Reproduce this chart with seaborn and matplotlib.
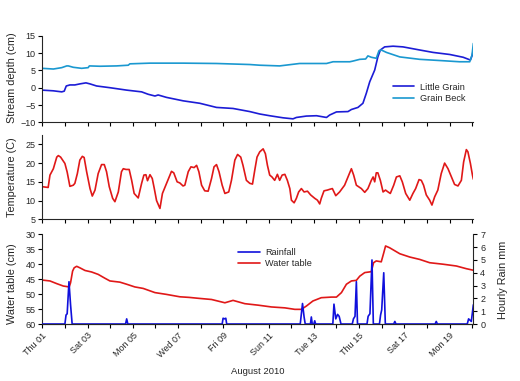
import numpy as np
import matplotlib
matplotlib.use("Agg")
import matplotlib.pyplot as plt
import seaborn as sns

# time axis in days from Thu 01 00:00
day_labels = ['Thu 01', 'Sat 03', 'Mon 05', 'Wed 07', 'Fri 09',
              'Sun 11', 'Tue 13', 'Thu 15', 'Sat 17', 'Mon 19']

# stream depth (cm)
lg_t = [0.0, 0.49, 0.86, 0.97, 1.06, 1.22, 1.44, 1.66, 1.93, 2.11,
        2.40, 2.99, 3.73, 4.39, 4.68, 4.98, 5.12, 5.49, 6.23, 6.96,
        7.70, 8.43, 9.17, 9.61, 10.05, 10.64, 11.08, 11.23, 11.67, 12.12,
        12.56, 12.70, 13.00, 13.51, 13.66, 13.95, 14.17, 14.32, 14.47, 14.69,
        14.83, 14.94, 15.13, 15.50, 15.94, 16.68, 17.27, 18.01, 18.60, 18.92,
        19.00, 19.05]
little_grain = [-0.7, -0.9, -1.2, -1.0, 0.5, 0.8, 0.8, 1.1, 1.4, 1.1,
                0.5, 0.0, -0.7, -1.2, -1.9, -2.4, -2.1, -2.8, -3.8, -4.5,
                -5.7, -6.0, -6.9, -7.6, -8.1, -8.7, -9.0, -8.6, -8.2, -8.1,
                -8.6, -7.9, -7.0, -6.9, -6.3, -5.7, -4.5, -1.6, 1.7, 5.1,
                8.9, 10.9, 11.8, 12.0, 11.8, 10.9, 10.2, 9.6, 8.8, 8.0,
                9.4, 10.9]
gb_t = [0.0, 0.49, 0.86, 1.08, 1.15, 1.37, 1.74, 2.03, 2.08, 2.55,
        3.28, 3.80, 3.87, 4.76, 6.23, 7.70, 9.17, 9.61, 10.49, 11.37,
        12.56, 12.85, 13.59, 13.73, 14.03, 14.29, 14.39, 14.54, 14.76, 14.88,
        14.98, 15.21, 15.80, 16.68, 17.71, 18.44, 18.89, 18.99, 19.05]
grain_beck = [5.6, 5.4, 5.8, 6.3, 6.3, 5.9, 5.6, 5.8, 6.3, 6.2,
              6.3, 6.5, 6.9, 7.1, 7.1, 7.0, 6.7, 6.5, 6.3, 7.0,
              7.0, 7.5, 7.5, 7.7, 8.2, 8.3, 9.2, 8.8, 8.5, 10.7,
              10.9, 10.2, 8.9, 8.2, 7.8, 7.5, 7.5, 9.4, 12.8]

# temperature (C)
temp_t = [0.00, 0.26, 0.34, 0.49, 0.64, 0.71, 0.81, 1.00, 1.10, 1.22,
          1.37, 1.44, 1.55, 1.66, 1.77, 1.85, 1.96, 2.11, 2.21, 2.33,
          2.47, 2.62, 2.74, 2.84, 2.96, 3.11, 3.21, 3.36, 3.50, 3.58,
          3.70, 3.84, 3.95, 4.06, 4.24, 4.39, 4.49, 4.58, 4.65, 4.76,
          4.86, 4.95, 5.05, 5.20, 5.31, 5.46, 5.61, 5.71, 5.81, 5.96,
          6.08, 6.22, 6.30, 6.45, 6.57, 6.71, 6.82, 6.92, 7.04, 7.18,
          7.33, 7.48, 7.59, 7.70, 7.81, 7.95, 8.07, 8.24, 8.36, 8.51,
          8.63, 8.77, 8.87, 9.02, 9.17, 9.29, 9.39, 9.49, 9.61, 9.76,
          9.86, 9.95, 10.05, 10.15, 10.27, 10.39, 10.49, 10.60, 10.72, 10.83,
          10.94, 11.01, 11.13, 11.23, 11.33, 11.45, 11.57, 11.72, 11.86, 12.04,
          12.16, 12.26, 12.33, 12.45, 12.60, 12.70, 12.82, 12.97, 13.14, 13.36,
          13.51, 13.66, 13.76, 13.88, 14.10, 14.25, 14.39, 14.54, 14.62, 14.69,
          14.76, 14.83, 14.94, 15.06, 15.17, 15.28, 15.38, 15.53, 15.65, 15.80,
          15.91, 16.06, 16.24, 16.38, 16.50, 16.65, 16.75, 16.85, 16.97, 17.12,
          17.22, 17.34, 17.48, 17.63, 17.78, 17.93, 18.08, 18.22, 18.37, 18.52,
          18.62, 18.74, 18.81, 18.92, 19.01, 19.05]
temperature = [13.7, 13.5, 16.8, 18.5, 21.6, 22.0, 21.6, 19.9, 17.6, 13.8,
               14.1, 14.6, 17.2, 20.8, 21.8, 21.5, 17.7, 13.2, 11.2, 12.8,
               17.2, 19.6, 19.6, 17.7, 13.7, 10.6, 9.7, 12.3, 17.7, 18.5,
               18.3, 18.3, 15.4, 11.9, 10.7, 14.6, 16.8, 16.9, 15.3, 16.9,
               15.9, 13.2, 10.0, 7.9, 11.9, 14.1, 16.3, 17.8, 17.4, 15.0,
               14.7, 13.9, 14.1, 17.7, 19.0, 18.8, 19.4, 17.7, 14.1, 12.6,
               12.5, 15.9, 19.0, 19.6, 17.7, 14.1, 11.9, 12.3, 15.4, 20.8,
               22.3, 21.6, 19.4, 15.4, 14.6, 14.4, 18.1, 21.6, 23.0, 23.8,
               22.5, 19.4, 16.8, 16.3, 15.4, 17.0, 15.4, 16.8, 17.0, 15.4,
               13.2, 10.1, 9.4, 10.6, 12.3, 13.2, 12.3, 12.5, 11.5, 10.6,
               10.1, 9.1, 10.6, 12.6, 12.8, 13.0, 13.2, 11.3, 12.3, 14.1,
               16.3, 18.5, 16.8, 14.1, 13.2, 12.2, 13.2, 15.4, 16.3, 15.0,
               17.4, 17.4, 15.4, 12.3, 12.8, 12.3, 11.9, 14.1, 16.3, 16.6,
               15.0, 11.9, 10.1, 11.9, 13.2, 15.6, 15.4, 14.1, 11.5, 10.1,
               8.8, 11.0, 12.8, 17.2, 20.0, 18.5, 16.3, 14.3, 13.9, 15.4,
               20.3, 23.6, 23.0, 19.9, 16.8, 15.7]

# water table (cm below surface)
wt_t = [0.0, 0.34, 0.64, 0.93, 1.19, 1.25, 1.34, 1.41, 1.52, 1.66,
        1.89, 2.18, 2.47, 2.77, 2.99, 3.43, 3.73, 4.09, 4.46, 4.98,
        5.49, 6.08, 6.49, 6.89, 7.48, 8.07, 8.43, 8.95, 9.54, 10.13,
        10.72, 11.16, 11.45, 11.67, 11.96, 12.33, 12.78, 13.00, 13.22, 13.44,
        13.66, 13.88, 14.03, 14.25, 14.54, 14.64, 14.76, 14.98, 15.09, 15.17,
        15.35, 15.80, 16.24, 16.68, 17.12, 17.71, 18.30, 18.74, 19.04]
water_table = [45.3, 45.6, 46.5, 47.3, 47.6, 46.2, 42.3, 41.2, 40.7, 41.2,
               42.1, 42.6, 43.4, 44.7, 45.6, 46.0, 46.7, 47.6, 48.1, 49.5,
               50.1, 50.9, 51.1, 51.4, 51.8, 52.9, 52.1, 53.2, 53.7, 54.3,
               54.6, 55.1, 55.1, 54.0, 52.3, 51.2, 51.0, 51.0, 49.5, 46.7,
               45.6, 45.4, 44.0, 42.8, 42.5, 39.5, 38.9, 39.2, 36.2, 33.9,
               34.5, 36.5, 37.6, 38.4, 39.5, 40.0, 40.6, 41.5, 42.0]

# hourly rain (mm)
rain_t = [0.0, 1.00, 1.05, 1.10, 1.18, 1.25, 1.32, 3.68, 3.73, 3.78,
          7.95, 7.99, 8.05, 8.11, 8.15, 11.40, 11.45, 11.50, 11.57, 11.62,
          11.85, 11.89, 11.93, 12.00, 12.04, 12.08, 12.84, 12.89, 12.97, 13.05,
          13.12, 13.20, 13.70, 13.75, 13.82, 13.88, 13.93, 14.35, 14.40, 14.48,
          14.57, 14.63, 14.90, 14.95, 15.00, 15.09, 15.16, 15.53, 15.58, 15.63,
          17.36, 17.41, 17.46, 18.78, 18.84, 18.90, 18.96, 19.05]
rain_mm = [0.0, 0.0, 0.7, 0.8, 3.3, 1.5, 0.0, 0.0, 0.4, 0.0,
           0.0, 0.45, 0.4, 0.45, 0.0, 0.0, 0.8, 1.6, 0.55, 0.0,
           0.0, 0.55, 0.0, 0.0, 0.25, 0.0, 0.0, 1.55, 0.4, 0.75,
           0.6, 0.0, 0.0, 0.4, 0.6, 3.3, 0.0, 0.0, 0.6, 0.8,
           5.0, 0.0, 0.0, 0.7, 1.1, 4.0, 0.0, 0.0, 0.2, 0.0,
           0.0, 0.2, 0.0, 0.0, 0.4, 0.3, 0.2, 1.5]

sns.set_style("ticks")
plt.rcParams['font.family'] = ['Liberation Sans', 'DejaVu Sans']
plt.rcParams['axes.linewidth'] = 0.8

fig = plt.figure(figsize=(5.2, 3.81), dpi=100)
ax1 = fig.add_axes([0.0813, 0.679, 0.829, 0.227])
ax2 = fig.add_axes([0.0813, 0.4244, 0.829, 0.2213])
ax3 = fig.add_axes([0.0813, 0.1496, 0.829, 0.2354])
ax4 = ax3.twinx()

c_lg = '#1c1cd6'
c_gb = '#1a98d0'
c_red = '#e01818'
c_rain = '#1010dc'
lw = 1.2

sns.lineplot(x=lg_t, y=little_grain, ax=ax1, color=c_lg, linewidth=lw, estimator=None, sort=False)
sns.lineplot(x=gb_t, y=grain_beck, ax=ax1, color=c_gb, linewidth=lw, estimator=None, sort=False)
sns.lineplot(x=temp_t, y=temperature, ax=ax2, color=c_red, linewidth=lw, estimator=None, sort=False)
sns.lineplot(x=wt_t, y=water_table, ax=ax3, color=c_red, linewidth=lw, estimator=None, sort=False)
sns.lineplot(x=rain_t, y=rain_mm, ax=ax4, color=c_rain, linewidth=lw, estimator=None, sort=False)

ax1.set_ylim(-10, 15)
ax1.set_yticks([-10, -5, 0, 5, 10, 15])
ax2.set_ylim(5, 27.5)
ax2.set_yticks([5, 10, 15, 20, 25])
ax3.set_ylim(60, 30)
ax3.set_yticks([30, 35, 40, 45, 50, 55, 60])
ax4.set_ylim(0, 7)
ax4.set_yticks(range(0, 8))

tick_labels = []
for i in range(20):
    tick_labels.append(day_labels[i // 2] if i % 2 == 0 else '')

for ax in (ax1, ax2, ax3, ax4):
    ax.set_xlim(0, 19.05)
    ax.set_xticks(range(20))
    ax.set_xlabel('')
    ax.set_ylabel('')
    ax.tick_params(length=3, width=0.8, labelsize=6.5, pad=2, color='black')
    ax.spines['top'].set_visible(False)

for ax in (ax1, ax2, ax3):
    ax.spines['right'].set_visible(False)

ax1.set_xticklabels([])
ax2.set_xticklabels([])
ax3.set_xticklabels(tick_labels, rotation=45, ha='right', rotation_mode='anchor')
ax4.spines['left'].set_visible(False)

# y labels
fig.text(0.023, 0.795, 'Stream depth (cm)', rotation=90, ha='center', va='center', fontsize=7.8)
fig.text(0.023, 0.535, 'Temperature (C)', rotation=90, ha='center', va='center', fontsize=7.8)
fig.text(0.023, 0.255, 'Water table (cm)', rotation=90, ha='center', va='center', fontsize=7.8)
fig.text(0.967, 0.265, 'Hourly Rain mm', rotation=90, ha='center', va='center', fontsize=7.8)
fig.text(0.496, 0.024, 'August 2010', ha='center', va='center', fontsize=6.8)

# legends
h1 = ax1.get_lines()
ax1.legend(h1[:2], ['Little Grain', 'Grain Beck'], loc='upper left',
           bbox_to_anchor=(0.814, 0.46), frameon=False, fontsize=6.6,
           borderpad=0, handlelength=2.3, handletextpad=0.6, labelspacing=0.3,
           borderaxespad=0)
h_rain = ax4.get_lines()[0]
h_wt = ax3.get_lines()[0]
leg = ax4.legend([h_rain, h_wt], ['Rainfall', 'Water table'], loc='upper left',
                 bbox_to_anchor=(0.455, 0.85), frameon=False, fontsize=6.6,
                 borderpad=0, handlelength=2.3, handletextpad=0.6, labelspacing=0.25,
                 borderaxespad=0)
if ax3.get_legend() is not None:
    ax3.get_legend().remove()

fig.savefig("out.png", dpi=100)
